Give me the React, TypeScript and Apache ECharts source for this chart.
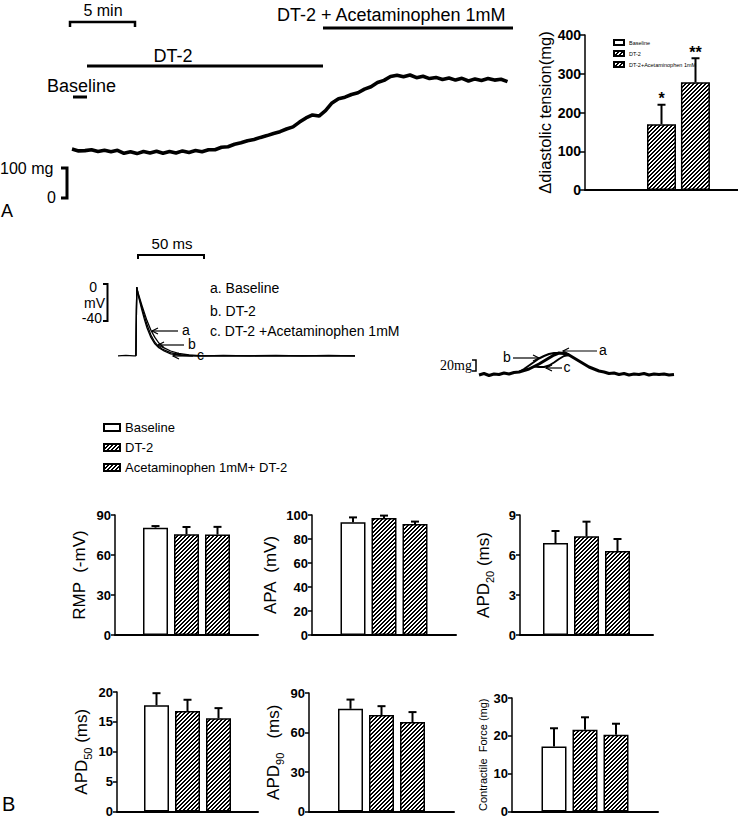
import React, { useEffect, useRef } from "react";
import * as echarts from "echarts";

// ---------- Panel A: diastolic tension trace (time in min, tension in mg)
const tensionTime = [0, 0.5, 1, 1.5, 2, 2.5, 3, 3.5, 4, 4.5, 5, 5.5, 6, 6.5, 7, 7.5, 8, 8.5, 9, 9.5, 10, 10.5, 11, 11.5, 12, 12.5, 13, 13.5, 14, 14.5, 15, 15.5, 16, 16.5, 17, 17.5, 18, 18.5, 19, 19.5, 20, 20.5, 21, 21.5, 22, 22.5, 23, 23.5, 24, 24.5, 25, 25.5, 26, 26.5, 27, 27.5, 28, 28.5, 29, 29.5, 30, 30.5, 31, 31.5, 32, 32.5, 33, 33.5];
const tensionMg = [163, 157, 158, 161, 155, 159, 154, 159, 149, 154, 148, 155, 150, 156, 149, 155, 150, 157, 152, 158, 154, 161, 161, 169, 171, 179, 184, 191, 195, 202, 208, 215, 221, 230, 237, 253, 267, 277, 273, 291, 317, 331, 336, 345, 351, 363, 371, 385, 392, 405, 409, 404, 410, 401, 406, 398, 402, 395, 400, 393, 399, 390, 397, 392, 398, 393, 396, 388];

// ---------- Panel A: diastolic tension bars
const diastolicGroups = ["Baseline", "DT-2", "DT-2+Acetaminophen 1mM"];
const diastolicMean = [0, 170, 278];
const diastolicErr = [0, 50, 62];
const diastolicSig = ["", "*", "**"];

// ---------- Panel B: action potentials (ms, mV)
const apTraceA = [[0, -86], [6, -85.5], [12, -86], [13.6, -86], [14, -30], [14.3, 0], [15, -6], [16.5, -14], [18, -22], [20, -32], [22, -42], [25, -54], [28, -63], [31, -70], [35, -76], [40, -80], [46, -83], [54, -85], [65, -86], [80, -85.5], [100, -86], [120, -85.5], [140, -86], [160, -85.5], [180, -86]];
const apTraceB = [[13.6, -86], [14, -30], [14.3, 0], [15, -7], [16.5, -16], [18, -25], [20, -36], [22, -47], [25, -60], [28, -69], [30, -73], [34, -78], [40, -82], [48, -85], [60, -86], [180, -86]];
const apTraceC = [[13.6, -86], [14, -30], [14.3, 0], [15, -8], [16.5, -18], [18, -28], [20, -40], [22, -51], [25, -63], [28, -71], [31, -76], [35, -80], [40, -83.5], [46, -85], [55, -86], [180, -86]];

// ---------- Panel B: contraction traces (ms, mg)
const forceTime = [0, 10, 20, 30, 40, 50, 60, 70, 80, 90, 100, 110, 120, 130, 140, 150, 160, 170, 180, 190, 200, 210, 220, 230, 240, 250, 260, 270, 280, 290, 300, 310, 320, 330, 340, 350, 360, 370, 380, 390];
const forceA = [0, 3, -1, 2, 1, 4, 2, 5, 6, 9, 12, 17, 22, 28, 34, 40, 44, 43, 40, 34, 28, 22, 16, 12, 8, 6, 3, 4, 1, 3, 0, 2, 1, 3, 0, 2, 1, 2, 0, 1];
const forceB = [[80, 6], [90, 12], [100, 19], [110, 26], [120, 33], [130, 38], [140, 42], [150, 44], [160, 44], [170, 43]];
const forceC = [[110, 17], [120, 16], [130, 16], [140, 19], [150, 25], [160, 32], [170, 38], [180, 40]];

// ---------- Panel B: summary bars
const paramNames = ["RMP", "APA", "APD20", "APD50", "APD90", "Contractile Force"];
const groupNames = ["Baseline", "DT-2", "Acetaminophen 1mM+ DT-2"];
const baselineMean = [80.5, 94, 6.9, 17.8, 78, 17.2];
const baselineErr = [1.2, 4, 0.9, 2, 7, 4.8];
const dt2Mean = [75.5, 97.5, 7.4, 16.8, 73.3, 21.6];
const dt2Err = [5.5, 2, 1.1, 1.9, 6.7, 3.3];
const acetMean = [75.3, 92.5, 6.3, 15.6, 68, 20.3];
const acetErr = [5.8, 2, 0.9, 1.7, 7.5, 2.9];
const axisMax = [90, 100, 9, 20, 90, 30];
const axisInterval = [30, 20, 3, 5, 30, 10];

const SANS = "Liberation Sans, Arial, sans-serif";
const NARROW = "Liberation Sans Narrow, Arial Narrow, Liberation Sans, sans-serif";
const SERIF = "Liberation Serif, Times New Roman, serif";

const panelLayout = [
  { left: 115, top: 515, width: 143, height: 120, gap: 24 },
  { left: 312, top: 515, width: 144, height: 120, gap: 27 },
  { left: 520, top: 515, width: 133, height: 120, gap: 25 },
  { left: 117, top: 692, width: 141, height: 120, gap: 24 },
  { left: 309, top: 693, width: 145, height: 119, gap: 24 },
  { left: 512, top: 698, width: 146, height: 114, gap: 24 },
];
const panelTitles = [
  "{m|RMP  (-mV)}",
  "{m|APA  (mV)}",
  "{m|APD}{s|20}{m| (ms)}",
  "{m|APD}{s|50}{m| (ms)}",
  "{m|APD}{s|90}{m|   (ms)}",
  "{c|Contractile  Force (mg)}",
];

function makeHatchCanvas() {
  const c = document.createElement("canvas");
  c.width = 4;
  c.height = 4;
  const ctx = c.getContext("2d")!;
  ctx.fillStyle = "#fff";
  ctx.fillRect(0, 0, 4, 4);
  ctx.fillStyle = "#000";
  for (let x = 0; x < 4; x++) {
    for (let y = 0; y < 4; y++) {
      if ((x + y) % 4 < 2) ctx.fillRect(x, y, 1, 1);
    }
  }
  return c;
}

const whiteBar = { color: "#fff", borderColor: "#000", borderWidth: 1.5 };
const hatchBar = (tile: HTMLCanvasElement) => ({
  color: { image: tile, repeat: "repeat" },
  borderColor: "#000",
  borderWidth: 1.5,
});

const txt = (text: string, x: number, y: number, size: number, align = "left", family = SANS, weight = "normal") => ({
  type: "text",
  x,
  y,
  silent: true,
  style: {
    text,
    fontSize: size,
    fontFamily: family,
    fontWeight: weight,
    fill: "#000",
    align,
    verticalAlign: "middle",
    textAlign: align,
    textVerticalAlign: "middle",
  },
});
const seg = (pts: number[][], w: number) => ({
  type: "polyline",
  silent: true,
  shape: { points: pts },
  style: { stroke: "#000", lineWidth: w, fill: null },
});
const arrow = (from: number, to: number, y: number) => {
  const d = to > from ? -1 : 1;
  return [
    seg([[from, y], [to, y]], 1.2),
    seg([[to + d * 6, y - 3], [to, y], [to + d * 6, y + 3]], 1.2),
  ];
};

function errSeries(gridIdx: number, means: number[], errs: number[], barW: number, gap: number, sig?: string[]) {
  return {
    type: "custom",
    xAxisIndex: gridIdx,
    yAxisIndex: gridIdx,
    z: 5,
    silent: true,
    data: means.map((m, i) => [0, m, errs[i], i]),
    renderItem: (params: any, api: any) => {
      const mean = api.value(1);
      const err = api.value(2);
      const i = api.value(3);
      if (!err) return null;
      const p0 = api.coord([0, mean]);
      const p1 = api.coord([0, mean + err]);
      const x = p0[0] + (i - 1) * (barW + gap);
      const children: any[] = [
        { type: "line", shape: { x1: x, y1: p0[1], x2: x, y2: p1[1] }, style: { stroke: "#000", lineWidth: 2 } },
        { type: "line", shape: { x1: x - 4, y1: p1[1], x2: x + 4, y2: p1[1] }, style: { stroke: "#000", lineWidth: 2 } },
      ];
      if (sig && sig[params.dataIndex]) {
        children.push({
          type: "text",
          x,
          y: p1[1] - 1,
          style: { text: sig[params.dataIndex], fontSize: 16, lineHeight: 10, fontWeight: "bold", fontFamily: SANS, fill: "#000", align: "center", verticalAlign: "bottom" },
        });
      }
      return { type: "group", children };
    },
  };
}

function buildOption() {
  const tile = makeHatchCanvas();
  const grid: any[] = [
    { left: 72, top: 48, width: 435.5, height: 150 },
    { left: 585, top: 35, right: -22, height: 155 },
    { left: 118, top: 279, width: 237, height: 80 },
    { left: 479, top: 350, width: 196, height: 30 },
  ];
  const xAxis: any[] = [
    { type: "value", gridIndex: 0, min: 0, max: 33.5, show: false },
    {
      type: "category", gridIndex: 1, data: [""],
      axisLine: { lineStyle: { color: "#000", width: 2 } }, axisTick: { show: false }, axisLabel: { show: false },
    },
    { type: "value", gridIndex: 2, min: 0, max: 180, show: false },
    { type: "value", gridIndex: 3, min: 0, max: 392, show: false },
  ];
  const yAxis: any[] = [
    { type: "value", gridIndex: 0, min: 0, max: 500, show: false },
    {
      type: "value", gridIndex: 1, min: 0, max: 400, interval: 100,
      axisLine: { show: true, lineStyle: { color: "#000", width: 1.5 } },
      axisTick: { show: true, length: 5, lineStyle: { color: "#000", width: 1.5 } },
      axisLabel: { fontFamily: NARROW, fontWeight: "bold", fontSize: 14, color: "#000", margin: 4 },
      splitLine: { show: false },
      name: "Δdiastolic tension(mg)", nameLocation: "middle", nameRotate: 90, nameGap: 29,
      nameTextStyle: { fontFamily: SANS, fontSize: 16.5, color: "#000" },
    },
    { type: "value", gridIndex: 2, min: -90, max: 10, show: false },
    { type: "value", gridIndex: 3, min: -10, max: 50, show: false },
  ];
  const series: any[] = [
    {
      type: "line", xAxisIndex: 0, yAxisIndex: 0, symbol: "none", silent: true,
      data: tensionTime.map((t, i) => [t, tensionMg[i]]),
      lineStyle: { color: "#000", width: 3.6 },
    },
  ];
  diastolicGroups.forEach((g, i) => {
    series.push({
      type: "bar", name: g, xAxisIndex: 1, yAxisIndex: 1, data: [diastolicMean[i]],
      barWidth: 29, barGap: "17%", itemStyle: i === 0 ? whiteBar : hatchBar(tile), silent: true,
    });
  });
  series.push(errSeries(1, diastolicMean, diastolicErr, 29, 5, diastolicSig));
  [apTraceA, apTraceB, apTraceC].forEach((tr) => {
    series.push({
      type: "line", xAxisIndex: 2, yAxisIndex: 2, symbol: "none", silent: true, data: tr,
      lineStyle: { color: "#000", width: 1.3 },
    });
  });
  series.push({
    type: "line", xAxisIndex: 3, yAxisIndex: 3, symbol: "none", silent: true,
    data: forceTime.map((t, i) => [t, forceA[i]]), lineStyle: { color: "#000", width: 3 },
  });
  [forceB, forceC].forEach((tr) => {
    series.push({
      type: "line", xAxisIndex: 3, yAxisIndex: 3, symbol: "none", silent: true, data: tr,
      lineStyle: { color: "#000", width: 2 },
    });
  });

  const means = [baselineMean, dt2Mean, acetMean];
  const errs = [baselineErr, dt2Err, acetErr];
  paramNames.forEach((p, k) => {
    const gi = 4 + k;
    const L = panelLayout[k];
    grid.push({ left: L.left, top: L.top, width: L.width, height: L.height });
    xAxis.push({
      type: "category", gridIndex: gi, data: [""],
      axisLine: { lineStyle: { color: "#000", width: 2 } }, axisTick: { show: false }, axisLabel: { show: false },
    });
    yAxis.push({
      type: "value", gridIndex: gi, min: 0, max: axisMax[k], interval: axisInterval[k],
      axisLine: { show: true, lineStyle: { color: "#000", width: 1.5 } },
      axisTick: { show: true, length: 4, lineStyle: { color: "#000", width: 1.5 } },
      axisLabel: { fontFamily: NARROW, fontWeight: "bold", fontSize: 13, color: "#000", margin: 4 },
      splitLine: { show: false },
      name: panelTitles[k], nameLocation: "middle", nameRotate: 90, nameGap: L.gap,
      nameTextStyle: {
        color: "#000",
        rich: {
          m: { fontFamily: SANS, fontSize: 17, color: "#000", lineHeight: 17, padding: [0, 0, 3, 0], verticalAlign: "bottom" },
          s: { fontFamily: SANS, fontSize: 11, color: "#000", lineHeight: 11, verticalAlign: "bottom" },
          c: { fontFamily: NARROW, fontSize: 11, color: "#000" },
        },
      },
    });
    groupNames.forEach((g, i) => {
      series.push({
        type: "bar", name: g, xAxisIndex: gi, yAxisIndex: gi, data: [means[i][k]],
        barWidth: 25, barGap: "24%", itemStyle: i === 0 ? whiteBar : hatchBar(tile), silent: true,
      });
    });
    series.push(errSeries(gi, [means[0][k], means[1][k], means[2][k]], [errs[0][k], errs[1][k], errs[2][k]], 25, 6));
  });

  const graphic: any[] = [
    // Panel A annotations
    txt("5 min", 103, 10, 16, "center"),
    seg([[70, 27], [70, 22], [135, 22], [135, 27]], 2.5),
    txt("DT-2 + Acetaminophen 1mM", 277, 15, 18),
    seg([[323, 28], [513, 28]], 3),
    txt("DT-2", 173, 56, 18, "center"),
    seg([[87, 66], [323, 66]], 3),
    txt("Baseline", 47, 86, 18),
    seg([[73, 97], [87, 97]], 3),
    txt("100 mg", 0, 168, 16),
    seg([[61, 168], [67, 168], [67, 198], [61, 198]], 3),
    txt("0", 47, 197, 16),
    txt("A", 1, 211, 18),
    // AP annotations
    txt("50 ms", 172, 243, 15, "center"),
    seg([[138, 259], [138, 255], [204, 255], [204, 259]], 2),
    txt("0", 97, 287, 14, "right"),
    txt("mV", 105, 303, 14, "right"),
    txt("-40", 102, 318, 14, "right"),
    seg([[103, 284], [107.5, 284], [107.5, 321], [103, 321]], 2),
    txt("a. Baseline", 210, 288, 14),
    txt("b. DT-2", 210, 311, 14),
    txt("c. DT-2 +Acetaminophen 1mM", 210, 331, 14),
    ...arrow(178, 152, 331),
    txt("a", 182, 330, 14),
    ...arrow(184, 158, 345),
    txt("b", 188, 344, 14),
    ...arrow(193, 173, 356),
    txt("c", 197, 355, 14),
    // contraction annotations
    txt("20mg", 472, 365, 14, "right", SERIF),
    seg([[472, 360], [476, 360], [476, 371], [472, 371]], 1.5),
    ...arrow(513, 539, 358),
    txt("b", 507, 357, 14, "center"),
    ...arrow(597, 563, 351),
    txt("a", 603, 350, 14, "center"),
    ...arrow(562, 546, 368),
    txt("c", 567, 367, 14, "center"),
    txt("B", 2, 804, 20, "left", NARROW),
  ];

  return {
    animation: false,
    textStyle: { fontFamily: SANS },
    legend: [
      {
        data: groupNames, orient: "vertical", left: 98, top: 416, itemWidth: 16, itemHeight: 7, itemGap: 7,
        icon: "rect", selectedMode: false,
        textStyle: { fontFamily: SANS, fontSize: 13, color: "#000" },
      },
      {
        data: diastolicGroups, orient: "vertical", left: 608, top: 34, itemWidth: 10, itemHeight: 5, itemGap: 4,
        icon: "rect", selectedMode: false,
        textStyle: { fontFamily: SANS, fontWeight: "normal", fontSize: 5.5, color: "#000" },
      },
    ],
    grid,
    xAxis,
    yAxis,
    series,
    graphic,
  };
}

export default function App() {
  const ref = useRef<HTMLDivElement>(null);
  useEffect(() => {
    document.body.style.margin = "0";
    const chart = echarts.init(ref.current!, undefined, { renderer: "svg" });
    chart.setOption(buildOption() as any);
    return () => chart.dispose();
  }, []);
  return <div ref={ref} style={{ width: 738, height: 818, background: "#fff" }} />;
}
